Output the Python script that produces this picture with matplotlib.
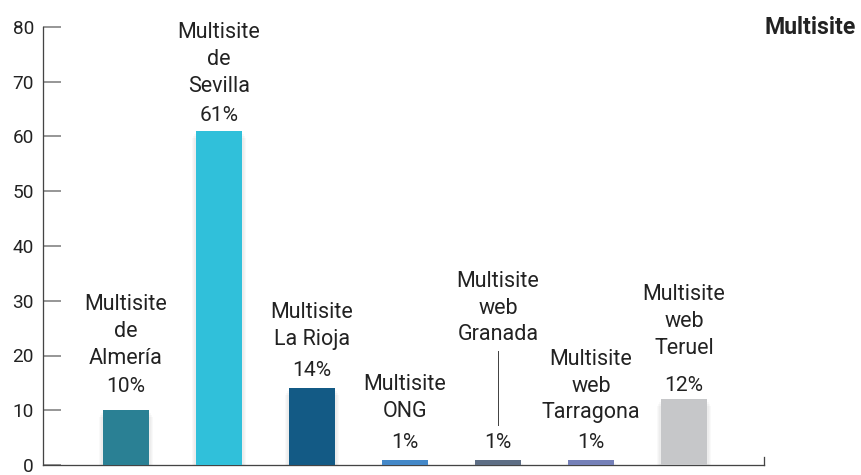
import matplotlib
matplotlib.use("Agg")
import matplotlib.pyplot as plt
import matplotlib.patheffects as pe

plt.rcParams['font.family'] = ['Roboto', 'DejaVu Sans']

names = ["Multisite\nde\nAlmería", "Multisite\nde\nSevilla", "Multisite\nLa Rioja",
         "Multisite\nONG", "Multisite\nweb\nGranada", "Multisite\nweb\nTarragona",
         "Multisite\nweb\nTeruel"]
values = [10, 61, 14, 1, 1, 1, 12]
colors = ["#2a8094", "#30c0da", "#135a85", "#4488c8", "#5e6e85", "#7580b8", "#c6c7c9"]
yticks = [0, 10, 20, 30, 40, 50, 60, 70, 80]

# label placement in px: percent above bar, gap between percent and name block
pct_off = [24, 16, 18, 17, 17, 17, 14]
gaps = [28, 29, 31, 31, 108, 30, 37]

dpi = 72
fig = plt.figure(figsize=(861 / dpi, 475 / dpi), dpi=dpi)
ax = fig.add_axes([43 / 861, 10 / 475, (764 - 43) / 861, (465 - 27) / 475])

# soft drop shadow, faked with a few offset translucent copies
offs = [(0, -2), (2, -3), (-2, -3), (3, -5), (-3, -5), (0, -6), (4, -7), (-4, -7)]
shadow = [pe.SimplePatchShadow(offset=o, shadow_rgbFace='black', alpha=0.022) for o in offs]
shadow.append(pe.Normal())

x = range(len(values))
bars = ax.bar(x, values, width=0.5, color=colors, zorder=3)
for b in bars:
    b.set_path_effects(shadow)

ax.set_xlim(-0.89, 6.86)
ax.set_ylim(0, 80)
ax.set_yticks(yticks)
ax.set_xticks([])
ax.tick_params(axis='y', direction='in', length=18, width=1.5, color='#777777',
               labelsize=19, labelcolor='#222222', pad=9)
for s in ['top', 'right']:
    ax.spines[s].set_visible(False)
for s in ['left', 'bottom']:
    ax.spines[s].set_color('#444444')
    ax.spines[s].set_linewidth(1.3)
ax.plot([6.86, 6.86], [0, 1.5], color='#444444', lw=1.3, clip_on=False)

lh = 26.5
for i, v in enumerate(values):
    ax.annotate(f"{v}%", (i, v), xytext=(0, pct_off[i]), textcoords='offset points',
                ha='center', va='center', fontsize=21, color='#222222')
    nlines = names[i].count("\n") + 1
    center = pct_off[i] + gaps[i] + (nlines - 1) * lh / 2
    ax.annotate(names[i], (i, v), xytext=(0, center), textcoords='offset points',
                ha='center', va='center', fontsize=21.5, color='#222222',
                linespacing=1.37)

# leader line for Granada
ax.plot([4, 4], [7.3, 20.8], color='#444444', lw=1)

fig.text(765 / 861, 1 - 27 / 475, "Multisite", fontsize=23, fontweight='bold',
         ha='left', va='center', color='#222222')

fig.savefig("out.png", dpi=dpi)
